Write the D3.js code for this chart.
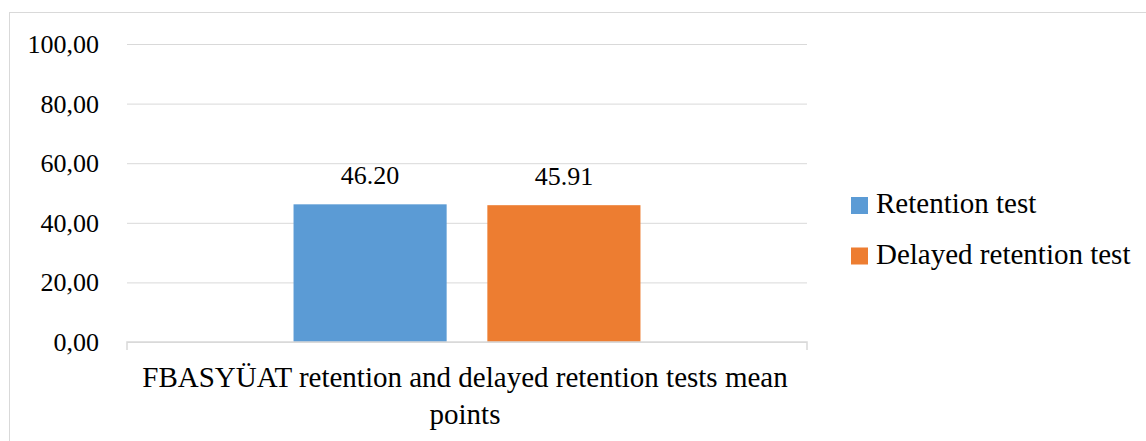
<!DOCTYPE html>
<html>
<head>
<meta charset="utf-8">
<script src="https://cdn.jsdelivr.net/npm/d3@7"></script>
<style>
  body { margin: 0; background: #fff; }
</style>
</head>
<body>
<div id="chart"></div>
<script>
// chart data
const categories = ['FBASYÜAT retention and delayed retention tests mean points']
const seriesNames = ['Retention test', 'Delayed retention test']
const seriesValues = [46.20, 45.91]
const valueLabels = ['46.20', '45.91']
const yTicks = [0, 20, 40, 60, 80, 100]
const colors = ['#5b9bd5', '#ed7d31']

var width = 1146
var height = 441
var margin = { top: 44, left: 127, right: 339, bottom: 99 }
var font = 'Liberation Serif'
var numSize = 26   // digits
var textSize = 29  // words (reference face is wider than Liberation Serif)

var svg = d3.select('#chart').append('svg')
    .attr('width', width)
    .attr('height', height)
    .attr('font-family', font)
    .attr('font-size', numSize)

// outer chart border (right and bottom edges fall outside the picture)
svg.append('rect')
    .attr('x', 9.5).attr('y', 12.5)
    .attr('width', 1160).attr('height', 460)
    .attr('fill', 'none')
    .attr('stroke', '#d9d9d9')

var y = d3.scaleLinear()
    .domain([0, 100])
    .range([height - margin.bottom, margin.top])

var x0 = d3.scaleBand()
    .domain(categories)
    .range([margin.left, width - margin.right])
    .paddingInner(0)
    .paddingOuter(0.48)

var x1 = d3.scaleBand()
    .domain(seriesNames)
    .range([0, x0.bandwidth()])
    .paddingInner(0.21)

// gridlines + labels
var yAxis = d3.axisLeft(y)
    .tickValues(yTicks)
    .tickSize(-(width - margin.left - margin.right))
    .tickFormat(function (d) { return d3.format('.2f')(d).replace('.', ',') })

var gy = svg.append('g')
    .attr('transform', 'translate(' + margin.left + ',0)')
    .call(yAxis)
    .attr('font-family', font)
    .attr('font-size', numSize)
gy.select('.domain').remove()
gy.selectAll('.tick line').attr('stroke', '#d9d9d9').attr('stroke-width', 1)
gy.selectAll('.tick text')
    .attr('x', -28)
    .attr('dy', '0.33em')
    .attr('fill', '#000')

// bars
var groups = svg.append('g').selectAll('g')
    .data(categories)
    .join('g')
    .attr('transform', function (d) { return 'translate(' + x0(d) + ',0)' })

var barData = seriesNames.map(function (s, i) {
    return { name: s, value: seriesValues[i], label: valueLabels[i], color: colors[i] }
})

groups.selectAll('rect')
    .data(barData)
    .join('rect')
    .attr('x', function (d) { return x1(d.name) })
    .attr('y', function (d) { return y(d.value) })
    .attr('width', x1.bandwidth())
    .attr('height', function (d) { return y(0) - y(d.value) })
    .attr('fill', function (d) { return d.color })

groups.selectAll('text.val')
    .data(barData)
    .join('text')
    .attr('class', 'val')
    .attr('x', function (d) { return x1(d.name) + x1.bandwidth() / 2 })
    .attr('y', function (d) { return y(d.value) - 20 })
    .attr('text-anchor', 'middle')
    .text(function (d) { return d.label })

// x axis line with end ticks
var x0r = x0.range()
var base = y(0)
svg.append('path')
    .attr('d', 'M' + x0r[0] + ',' + (base + 8) + 'V' + base + 'H' + x0r[1] + 'V' + (base + 8))
    .attr('fill', 'none')
    .attr('stroke', '#d9d9d9')
    .attr('stroke-width', 1.5)

// category label, wrapped on two lines
var catLines = ['FBASYÜAT retention and delayed retention tests mean', 'points']
svg.append('text')
    .attr('text-anchor', 'middle')
    .attr('font-size', textSize)
    .selectAll('tspan')
    .data(catLines)
    .join('tspan')
    .attr('x', (x0r[0] + x0r[1]) / 2 - 2)
    .attr('y', function (d, i) { return 387 + i * 37 })
    .text(function (d) { return d })

// legend
var legend = svg.append('g').selectAll('g')
    .data(seriesNames)
    .join('g')
    .attr('transform', function (d, i) { return 'translate(851,' + (197 + i * 50.5) + ')' })

legend.append('rect')
    .attr('width', 17).attr('height', 17)
    .attr('fill', function (d, i) { return colors[i] })

legend.append('text')
    .attr('x', 25).attr('y', 16)
    .attr('font-size', textSize)
    .text(function (d) { return d })
</script>
</body>
</html>
